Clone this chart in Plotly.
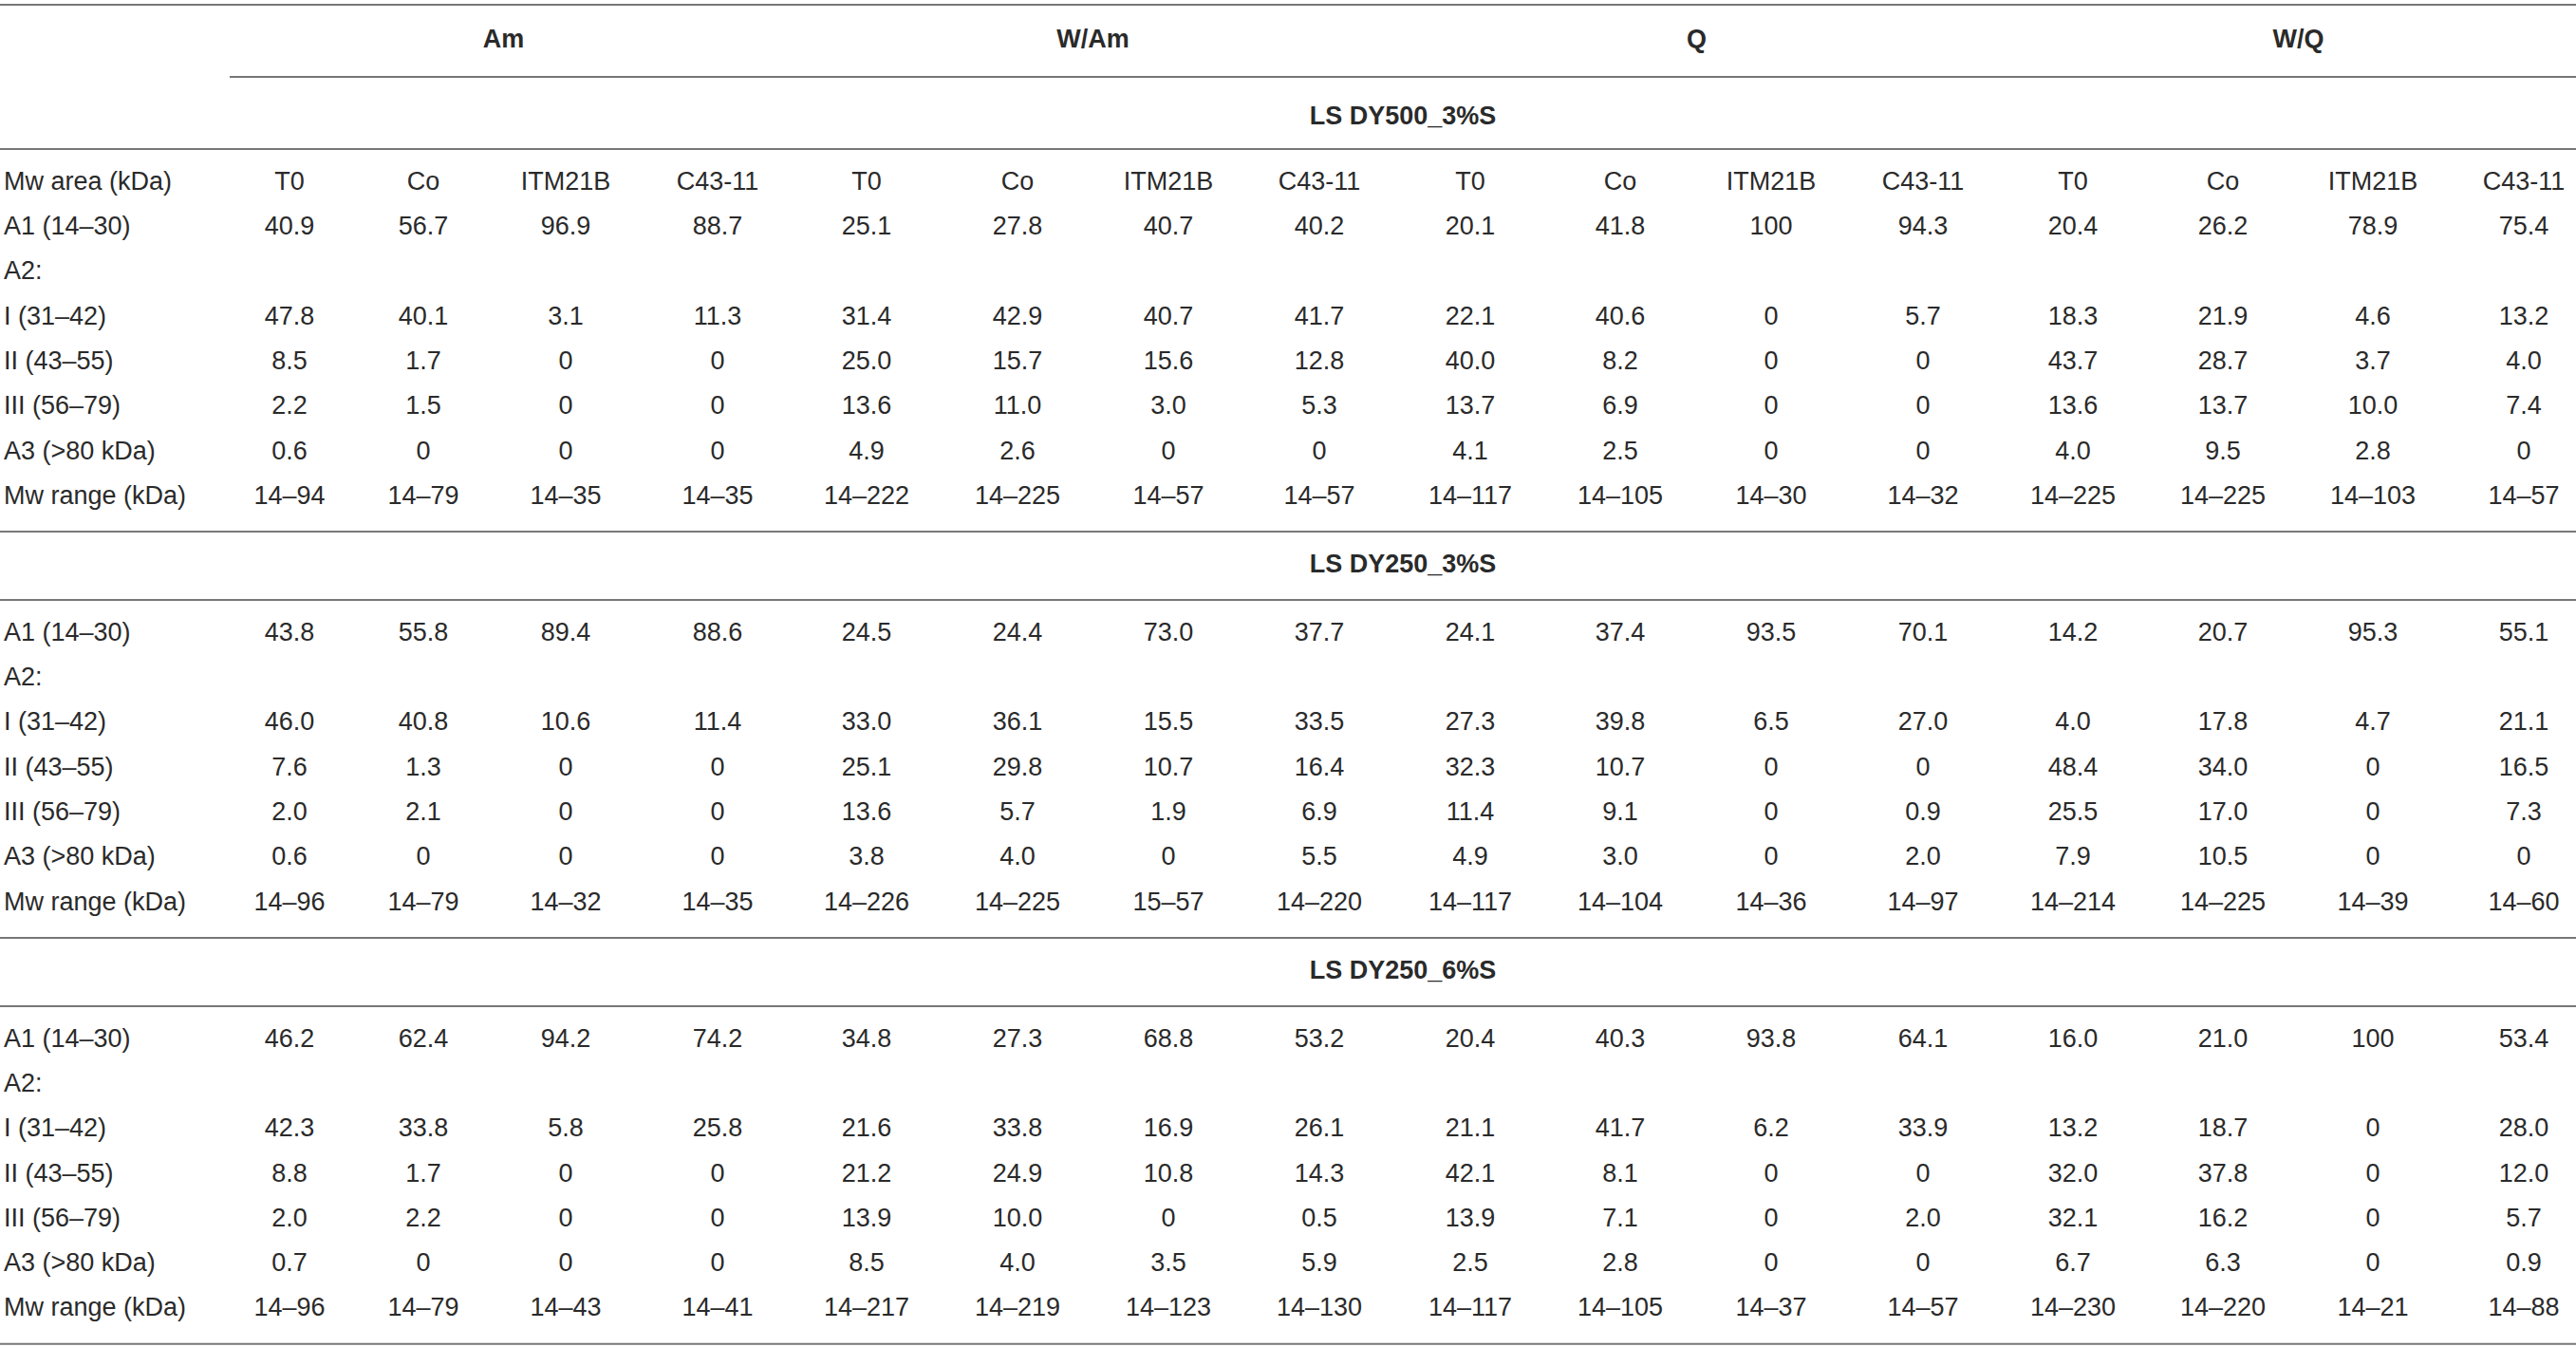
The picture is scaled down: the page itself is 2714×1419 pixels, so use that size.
import plotly.graph_objects as go

# --- table content ---------------------------------------------------------
groups = ["Am", "W/Am", "Q", "W/Q"]
strains = ["T0", "Co", "ITM21B", "C43-11"]
row_labels = ["A1 (14–30)", "A2:", "I (31–42)", "II (43–55)", "III (56–79)",
              "A3 (>80 kDa)", "Mw range (kDa)"]
block_titles = ["LS DY500_3%S", "LS DY250_3%S", "LS DY250_6%S"]

# LS DY500_3%S
dy500_3_a1 = ["40.9", "56.7", "96.9", "88.7", "25.1", "27.8", "40.7", "40.2",
              "20.1", "41.8", "100", "94.3", "20.4", "26.2", "78.9", "75.4"]
dy500_3_i = ["47.8", "40.1", "3.1", "11.3", "31.4", "42.9", "40.7", "41.7",
             "22.1", "40.6", "0", "5.7", "18.3", "21.9", "4.6", "13.2"]
dy500_3_ii = ["8.5", "1.7", "0", "0", "25.0", "15.7", "15.6", "12.8",
              "40.0", "8.2", "0", "0", "43.7", "28.7", "3.7", "4.0"]
dy500_3_iii = ["2.2", "1.5", "0", "0", "13.6", "11.0", "3.0", "5.3",
               "13.7", "6.9", "0", "0", "13.6", "13.7", "10.0", "7.4"]
dy500_3_a3 = ["0.6", "0", "0", "0", "4.9", "2.6", "0", "0",
              "4.1", "2.5", "0", "0", "4.0", "9.5", "2.8", "0"]
dy500_3_range = ["14–94", "14–79", "14–35", "14–35", "14–222", "14–225", "14–57", "14–57",
                 "14–117", "14–105", "14–30", "14–32", "14–225", "14–225", "14–103", "14–57"]

# LS DY250_3%S
dy250_3_a1 = ["43.8", "55.8", "89.4", "88.6", "24.5", "24.4", "73.0", "37.7",
              "24.1", "37.4", "93.5", "70.1", "14.2", "20.7", "95.3", "55.1"]
dy250_3_i = ["46.0", "40.8", "10.6", "11.4", "33.0", "36.1", "15.5", "33.5",
             "27.3", "39.8", "6.5", "27.0", "4.0", "17.8", "4.7", "21.1"]
dy250_3_ii = ["7.6", "1.3", "0", "0", "25.1", "29.8", "10.7", "16.4",
              "32.3", "10.7", "0", "0", "48.4", "34.0", "0", "16.5"]
dy250_3_iii = ["2.0", "2.1", "0", "0", "13.6", "5.7", "1.9", "6.9",
               "11.4", "9.1", "0", "0.9", "25.5", "17.0", "0", "7.3"]
dy250_3_a3 = ["0.6", "0", "0", "0", "3.8", "4.0", "0", "5.5",
              "4.9", "3.0", "0", "2.0", "7.9", "10.5", "0", "0"]
dy250_3_range = ["14–96", "14–79", "14–32", "14–35", "14–226", "14–225", "15–57", "14–220",
                 "14–117", "14–104", "14–36", "14–97", "14–214", "14–225", "14–39", "14–60"]

# LS DY250_6%S
dy250_6_a1 = ["46.2", "62.4", "94.2", "74.2", "34.8", "27.3", "68.8", "53.2",
              "20.4", "40.3", "93.8", "64.1", "16.0", "21.0", "100", "53.4"]
dy250_6_i = ["42.3", "33.8", "5.8", "25.8", "21.6", "33.8", "16.9", "26.1",
             "21.1", "41.7", "6.2", "33.9", "13.2", "18.7", "0", "28.0"]
dy250_6_ii = ["8.8", "1.7", "0", "0", "21.2", "24.9", "10.8", "14.3",
              "42.1", "8.1", "0", "0", "32.0", "37.8", "0", "12.0"]
dy250_6_iii = ["2.0", "2.2", "0", "0", "13.9", "10.0", "0", "0.5",
               "13.9", "7.1", "0", "2.0", "32.1", "16.2", "0", "5.7"]
dy250_6_a3 = ["0.7", "0", "0", "0", "8.5", "4.0", "3.5", "5.9",
              "2.5", "2.8", "0", "0", "6.7", "6.3", "0", "0.9"]
dy250_6_range = ["14–96", "14–79", "14–43", "14–41", "14–217", "14–219", "14–123", "14–130",
                 "14–117", "14–105", "14–37", "14–57", "14–230", "14–220", "14–21", "14–88"]

blocks = [
    [dy500_3_a1, None, dy500_3_i, dy500_3_ii, dy500_3_iii, dy500_3_a3, dy500_3_range],
    [dy250_3_a1, None, dy250_3_i, dy250_3_ii, dy250_3_iii, dy250_3_a3, dy250_3_range],
    [dy250_6_a1, None, dy250_6_i, dy250_6_ii, dy250_6_iii, dy250_6_a3, dy250_6_range],
]

# --- layout geometry (pixels) ---------------------------------------------
W, H = 2714, 1419
col_x = [305, 446, 596, 756, 913, 1072, 1231, 1390,
         1549, 1707, 1866, 2026, 2184, 2342, 2500, 2659]
label_x = 4
data_left = 242
pitch = 47.3
gap = 36
head_gap = 38

FONT = "Liberation Sans, Arial, sans-serif"
TXT = "#2a2a2a"
LINE = "#777777"
FS = 27

fig = go.Figure()
hlines = []  # (y, x0)

y = 5
hlines.append((y, 0))
y += head_gap
y_groups = y
y += head_gap
hlines.append((y, data_left))

lab_x, lab_y, lab_t = [], [], []
cell_x, cell_y, cell_t = [], [], []
bold_x, bold_y, bold_t = [], [], []

for k, g in enumerate(groups):
    cols = col_x[4 * k:4 * k + 4]
    bold_x.append((cols[0] + cols[-1]) / 2)
    bold_y.append(y_groups)
    bold_t.append(g)

for b, title in enumerate(block_titles):
    # the first subheader sits a little lower under the group header line
    above, below = (43, 33) if b == 0 else (gap, gap)
    y += above
    bold_x.append((data_left + W) / 2)
    bold_y.append(y)
    bold_t.append(title)
    y += below
    hlines.append((y, 0))
    y += gap
    if b == 0:
        lab_x.append(label_x); lab_y.append(y); lab_t.append("Mw area (kDa)")
        for c in range(16):
            cell_x.append(col_x[c]); cell_y.append(y); cell_t.append(strains[c % 4])
        y += pitch
    for r, lab in enumerate(row_labels):
        lab_x.append(label_x); lab_y.append(y); lab_t.append(lab)
        vals = blocks[b][r]
        if vals is not None:
            for c, v in enumerate(vals):
                cell_x.append(col_x[c]); cell_y.append(y); cell_t.append(v)
        if r < len(row_labels) - 1:
            y += pitch
    y += gap
    hlines.append((y, 0))

fig.add_trace(go.Scatter(x=cell_x, y=cell_y, text=cell_t, mode="text",
                         textposition="middle center",
                         textfont=dict(family=FONT, size=FS, color=TXT),
                         hoverinfo="skip", showlegend=False))
fig.add_trace(go.Scatter(x=lab_x, y=lab_y, text=lab_t, mode="text",
                         textposition="middle right",
                         textfont=dict(family=FONT, size=FS, color=TXT),
                         hoverinfo="skip", showlegend=False))
fig.add_trace(go.Scatter(x=bold_x, y=bold_y, text=["<b>%s</b>" % t for t in bold_t],
                         mode="text", textposition="middle center",
                         textfont=dict(family=FONT, size=FS, color=TXT),
                         hoverinfo="skip", showlegend=False))

for yy, x0 in hlines:
    fig.add_shape(type="line", x0=x0, x1=W, y0=yy, y1=yy, xref="x", yref="y",
                  line=dict(color=LINE, width=2))

fig.update_xaxes(range=[0, W], visible=False, fixedrange=True)
fig.update_yaxes(range=[H, 0], visible=False, fixedrange=True)
fig.update_layout(width=W, height=H, margin=dict(l=0, r=0, t=0, b=0),
                  plot_bgcolor="white", paper_bgcolor="white")

# drop the browser's default 8px body margin so the figure sits at the page corner
fig.write_html("out.html", config={"displayModeBar": False},
               post_script="document.body.style.margin='0';document.body.style.overflow='hidden';")
